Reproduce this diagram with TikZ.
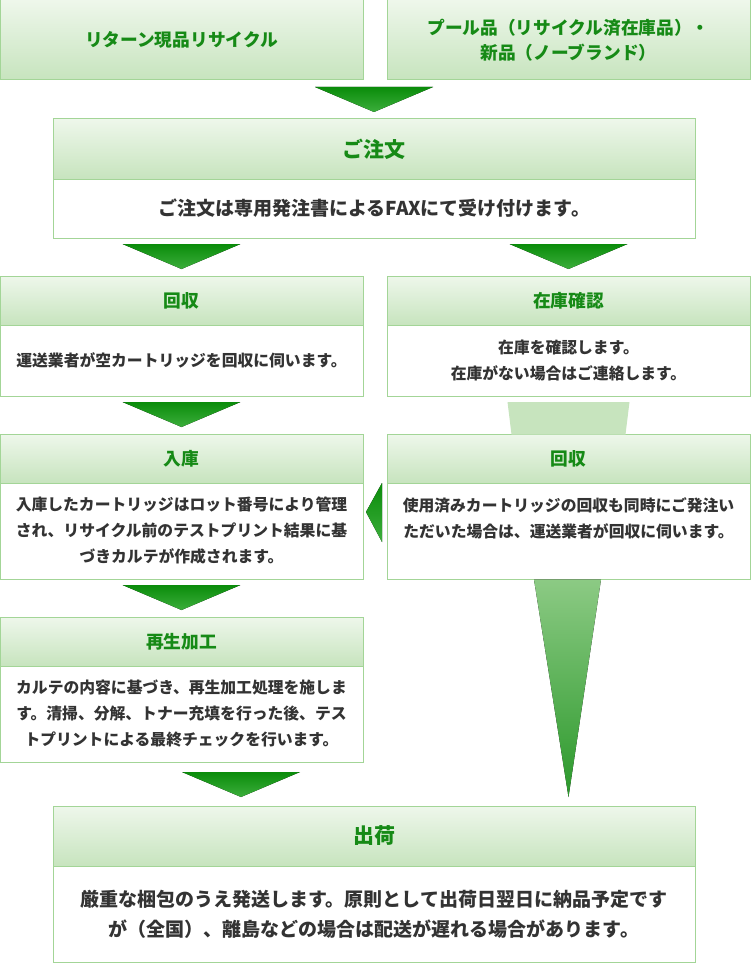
\documentclass[tikz,border=0pt]{standalone}
\usepackage{fontspec}
\setmainfont{Noto Sans CJK JP}
\usetikzlibrary{calc}
\definecolor{frame}{HTML}{A3D597}
\definecolor{headtop}{HTML}{EEF7EB}
\definecolor{headbot}{HTML}{C7E4BE}
\definecolor{titlegreen}{HTML}{168A16}
\definecolor{bodygray}{HTML}{333333}
\definecolor{arrowtop}{HTML}{0A8C0A}
\definecolor{arrowbot}{HTML}{3CAE3C}
\definecolor{funneltop}{HTML}{8CCA84}
\definecolor{funnelbot}{HTML}{2A982A}
\begin{document}
\begin{tikzpicture}[x=1pt, y=-1pt,
    box/.style={draw=frame, line width=1pt, anchor=north west, inner sep=0pt, outer sep=0pt},
    head/.style={box, top color=headtop, bottom color=headbot, text=titlegreen, align=center,
        font=\bfseries\fontsize{17.7}{25}\selectfont},
    bighead/.style={head, font=\bfseries\fontsize{21}{24}\selectfont},
    body/.style={box, fill=white, text=bodygray, align=center,
        font=\bfseries\fontsize{15.8}{26}\selectfont},
    bigbody/.style={body, font=\bfseries\fontsize{19}{30}\selectfont},
    down/.style={top color=arrowtop, bottom color=arrowbot}]
    \useasboundingbox (0,0) rectangle (750,963);
    \node[head, minimum width=363, minimum height=80] (return) at (0,0) {リターン現品リサイクル};
    \node[head, minimum width=363, minimum height=80] (pool) at (387,0) {プール品（リサイクル済在庫品）・\\新品（ノーブランド）};
    \node[bighead, minimum width=642, minimum height=60] (order) at (53,119) {ご注文};
    \node[bigbody, minimum width=642, minimum height=59] (orderbody) at (53,179) {ご注文は専用発注書によるFAXにて受け付けます。};
    \node[head, minimum width=363, minimum height=49] (collect) at (0,276) {回収};
    \node[body, minimum width=363, minimum height=71] (collectbody) at (0,325) {運送業者が空カートリッジを回収に伺います。};
    \node[head, minimum width=363, minimum height=49] (stock) at (387,276) {在庫確認};
    \node[body, minimum width=363, minimum height=71] (stockbody) at (387,325) {在庫を確認します。\\在庫がない場合はご連絡します。};
    \node[head, minimum width=363, minimum height=49] (store) at (0,434) {入庫};
    \node[body, minimum width=363, minimum height=96] (storebody) at (0,483) {入庫したカートリッジはロット番号により管理\\され、リサイクル前のテストプリント結果に基\\づきカルテが作成されます。};
    \node[head, minimum width=363, minimum height=49] (pickup) at (387,434) {回収};
    \node[body, minimum width=363, minimum height=96] (pickupbody) at (387,483) {使用済みカートリッジの回収も同時にご発注い\\ただいた場合は、運送業者が回収に伺います。\\\mbox{}};
    \node[head, minimum width=363, minimum height=49] (refill) at (0,617) {再生加工};
    \node[body, minimum width=363, minimum height=96] (refillbody) at (0,666) {カルテの内容に基づき、再生加工処理を施しま\\す。清掃、分解、トナー充填を行った後、テス\\トプリントによる最終チェックを行います。};
    \node[bighead, minimum width=642, minimum height=60] (ship) at (53,806) {出荷};
    \node[bigbody, minimum width=642, minimum height=96] (shipbody) at (53,866) {厳重な梱包のうえ発送します。原則として出荷日翌日に納品予定です\\が（全国）、離島などの場合は配送が遅れる場合があります。};
    \foreach \to in {order, collect, stock, store, refill}
        \fill[down] ($(\to.north)+(-59,-32)$) -- ($(\to.north)+(59,-32)$) -- ($(\to.north)+(0,-7)$) -- cycle;
    \fill[down] ($(ship.north)+(-192,-34)$) -- ($(ship.north)+(-74,-34)$) -- ($(ship.north)+(-133,-9)$) -- cycle;
    \fill[headbot] ($(stockbody.south)+(-61,6)$) -- ($(stockbody.south)+(61,6)$) -- ($(pickup.north)+(57,0.5)$) -- ($(pickup.north)+(-57,0.5)$) -- cycle;
    \fill[down] ($(pickupbody.north west)+(-5,0)$) -- ($(pickupbody.north west)+(-21,29)$) -- ($(pickupbody.north west)+(-5,59)$) -- cycle;
    \fill[top color=funneltop, bottom color=funnelbot] ($(pickupbody.south)+(-34.5,0.5)$) -- ($(pickupbody.south)+(32.5,0.5)$) -- ($(ship.north)+(194.5,-9)$) -- cycle;
\end{tikzpicture}
\end{document}
